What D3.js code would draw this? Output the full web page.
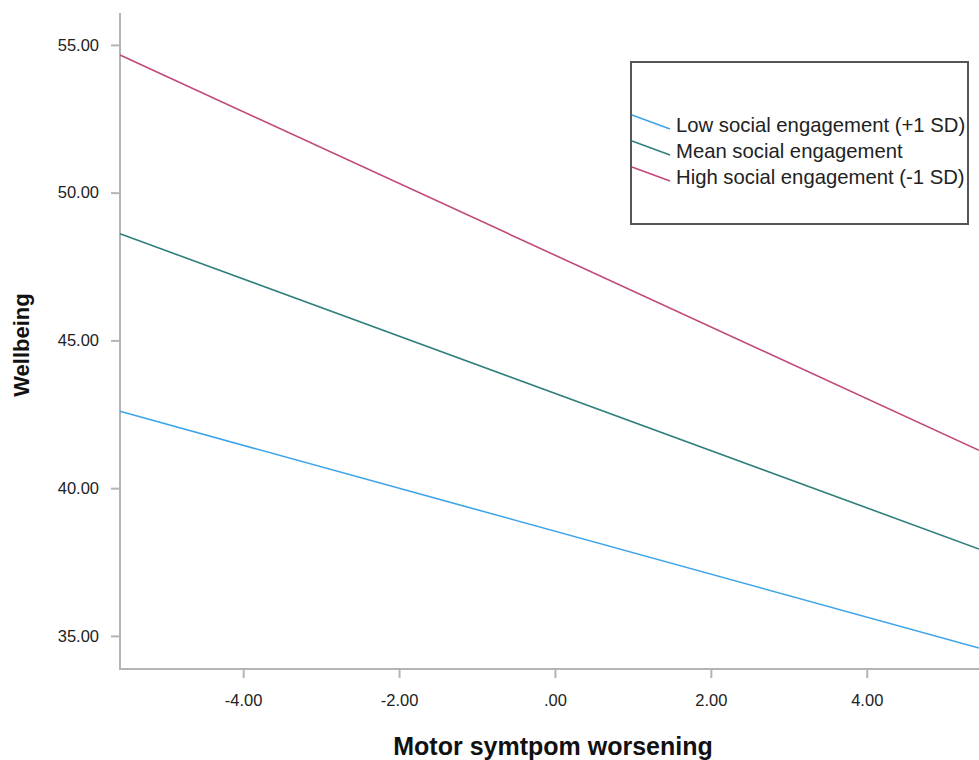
<!DOCTYPE html>
<html lang="en">
<head>
<meta charset="UTF-8">
<title>Wellbeing by motor symptom worsening</title>
<script src="https://d3js.org/d3.v7.min.js"></script>
<style>
  body { margin: 0; background: #fff; }
  svg { display: block; font-family: "Liberation Sans", Arial, sans-serif; }
</style>
</head>
<body>
<div id="chart"></div>
<script>
// data
let seriesNames = ["Low social engagement (+1 SD)", "Mean social engagement", "High social engagement (-1 SD)"]
let seriesColors = ["#3ea4ea", "#2f7f7a", "#c0487b"]
let xEnds = [-5.58, 5.44]
let lowVals = [42.60, 34.59]
let meanVals = [48.61, 37.94]
let highVals = [54.66, 41.28]
let xTicks = [-4, -2, 0, 2, 4]
let yTicks = [35, 40, 45, 50, 55]

let width = 979, height = 760

let svg = d3.select("#chart").append("svg")
    .attr("width", width)
    .attr("height", height)

let x = d3.scaleLinear().domain([-5.58, 5.44]).range([120, 979])
let y = d3.scaleLinear().domain([33.88, 56.08]).range([669, 13])

// SPSS style labels: ".00" for zero, plain hyphen for minus
let fmt = function(d) {
    let s = d.toFixed(2)
    return s === "0.00" ? ".00" : s
}

// axes
let xAxis = svg.append("g")
    .attr("transform", "translate(0,669)")
    .call(d3.axisBottom(x).tickValues(xTicks).tickFormat(fmt).tickSize(9).tickPadding(16))
let yAxis = svg.append("g")
    .attr("transform", "translate(120,0)")
    .call(d3.axisLeft(y).tickValues(yTicks).tickFormat(fmt).tickSize(9).tickPadding(12))

;[xAxis, yAxis].forEach(function(a) {
    a.attr("font-family", null).attr("font-size", null)
    a.select(".domain").attr("stroke", "#b4b4b4").attr("stroke-width", 2)
    a.selectAll(".tick line").attr("stroke", "#b4b4b4").attr("stroke-width", 2)
    a.selectAll(".tick text").attr("fill", "#222").style("font-size", "16.5px")
})
yAxis.select(".domain").attr("d", "M0,670V13")
xAxis.select(".domain").attr("d", "M119,0H979")

// lines
let series = [lowVals, meanVals, highVals]
let line = d3.line()
    .x(function(d, i) { return x(xEnds[i]) })
    .y(function(d) { return y(d) })

svg.selectAll("path.series")
    .data(series)
    .enter()
    .append("path")
    .attr("class", "series")
    .attr("d", line)
    .attr("fill", "none")
    .attr("stroke", function(d, i) { return seriesColors[i] })
    .attr("stroke-width", 1.6)

// axis titles
svg.append("text")
    .attr("x", 553).attr("y", 755)
    .attr("text-anchor", "middle")
    .style("font-size", "25px").style("font-weight", "bold")
    .attr("fill", "#111")
    .text("Motor symtpom worsening")
svg.append("text")
    .attr("transform", "translate(29,345) rotate(-90)")
    .attr("text-anchor", "middle")
    .style("font-size", "22px").style("font-weight", "bold")
    .attr("fill", "#111")
    .text("Wellbeing")

// legend
let legend = svg.append("g")
legend.append("rect")
    .attr("x", 631).attr("y", 62)
    .attr("width", 337).attr("height", 162)
    .attr("fill", "#fff")
    .attr("stroke", "#555").attr("stroke-width", 2)

let items = legend.selectAll("g.item")
    .data(seriesNames)
    .enter()
    .append("g")
    .attr("class", "item")
    .attr("transform", function(d, i) { return "translate(0," + (i * 26) + ")" })
items.append("line")
    .attr("x1", 632).attr("y1", 115)
    .attr("x2", 670).attr("y2", 129)
    .attr("stroke", function(d, i) { return seriesColors[i] })
    .attr("stroke-width", 1.6)
items.append("text")
    .attr("x", 676).attr("y", 132)
    .style("font-size", "20.3px")
    .attr("fill", "#222")
    .text(function(d) { return d })
</script>
</body>
</html>
